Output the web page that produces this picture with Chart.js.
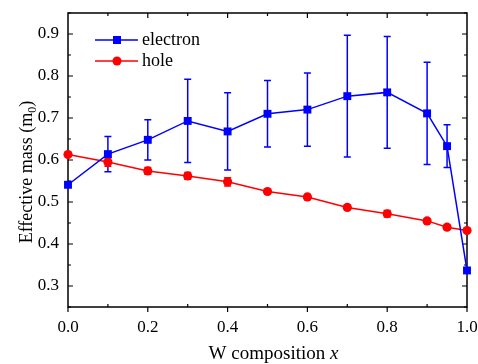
<!DOCTYPE html>
<html>
<head>
<meta charset="utf-8">
<script src="https://cdn.jsdelivr.net/npm/chart.js@4.4.1/dist/chart.umd.min.js"></script>
<style>
  html, body { margin: 0; padding: 0; background: #fff; }
  #wrap { width: 478px; height: 364px; }
</style>
</head>
<body>
<div id="wrap"><canvas id="chart" width="478" height="364"></canvas></div>
<script>
// W composition values
const compX = [0.0, 0.1, 0.2, 0.3, 0.4, 0.5, 0.6, 0.7, 0.8, 0.9, 0.95, 1.0];
const electronMass = [0.541, 0.614, 0.648, 0.693, 0.668, 0.710, 0.720, 0.752, 0.761, 0.711, 0.633, 0.337];
const electronErr = [0, 0.042, 0.048, 0.099, 0.092, 0.079, 0.087, 0.145, 0.133, 0.122, 0.051, 0];
const holeMass = [0.613, 0.595, 0.574, 0.562, 0.548, 0.525, 0.512, 0.487, 0.472, 0.455, 0.440, 0.432];
const holeErr = [0, 0.010, 0.008, 0.008, 0.010, 0.005, 0.006, 0.005, 0.008, 0.005, 0.005, 0];
const xTicks = [0.0, 0.2, 0.4, 0.6, 0.8, 1.0];
const yTicks = [0.3, 0.4, 0.5, 0.6, 0.7, 0.8, 0.9];

const SERIF = '"Liberation Serif", "Times New Roman", serif';
const BLUE = '#0000ff';
const RED = '#ff0000';

const toPoints = (xs, ys) => xs.map((x, i) => ({ x, y: ys[i] }));

// error bars, frame with inward ticks, legend and axis titles
const origin = {
    id: 'originStyle',
    beforeDatasetsDraw(chart) {
        const { ctx, scales: { x, y } } = chart;
        const sets = [[electronMass, electronErr, BLUE], [holeMass, holeErr, RED]];
        ctx.save();
        ctx.lineWidth = 1.5;
        sets.forEach(([vals, errs, color]) => {
            ctx.strokeStyle = color;
            vals.forEach((v, i) => {
                if (!errs[i]) return;
                const px = x.getPixelForValue(compX[i]);
                const top = y.getPixelForValue(v + errs[i]);
                const bot = y.getPixelForValue(v - errs[i]);
                ctx.beginPath();
                ctx.moveTo(px, top); ctx.lineTo(px, bot);
                ctx.moveTo(px - 3.5, top); ctx.lineTo(px + 3.5, top);
                ctx.moveTo(px - 3.5, bot); ctx.lineTo(px + 3.5, bot);
                ctx.stroke();
            });
        });
        ctx.restore();
    },
    beforeDraw(chart) {
        const { ctx, chartArea: a, scales: { x, y } } = chart;
        ctx.save();
        ctx.strokeStyle = '#000';
        ctx.lineWidth = 1.5;
        ctx.strokeRect(a.left, a.top, a.right - a.left, a.bottom - a.top);

        ctx.lineWidth = 1.2;
        ctx.beginPath();
        for (let i = 0; i <= 10; i++) {
            const px = x.getPixelForValue(i / 10);
            const major = i % 2 === 0;
            // bottom: majors out, minors in
            if (major) { ctx.moveTo(px, a.bottom); ctx.lineTo(px, a.bottom + 5); }
            else { ctx.moveTo(px, a.bottom); ctx.lineTo(px, a.bottom - 3); }
            // top: inward
            if (i > 0 && i < 10) { ctx.moveTo(px, a.top); ctx.lineTo(px, a.top + (major ? 5 : 3)); }
        }
        for (let i = 5; i <= 19; i++) {
            const py = y.getPixelForValue(i / 20);
            const len = i % 2 === 0 ? 5 : 3;
            ctx.moveTo(a.left, py); ctx.lineTo(a.left + len, py);
            ctx.moveTo(a.right, py); ctx.lineTo(a.right - len, py);
        }
        ctx.stroke();
        ctx.restore();
    },
    afterDraw(chart) {
        const { ctx, chartArea: a } = chart;
        ctx.save();

        // legend
        const legend = [
            { label: 'electron', color: BLUE, style: 'rect', y: 40 },
            { label: 'hole', color: RED, style: 'circle', y: 61 }
        ];
        ctx.font = '18px ' + SERIF;
        ctx.textBaseline = 'middle';
        ctx.textAlign = 'left';
        legend.forEach(item => {
            ctx.strokeStyle = item.color;
            ctx.fillStyle = item.color;
            ctx.lineWidth = 1.5;
            ctx.beginPath();
            ctx.moveTo(95, item.y); ctx.lineTo(138, item.y);
            ctx.stroke();
            ctx.beginPath();
            if (item.style === 'rect') ctx.rect(113, item.y - 4, 8, 8);
            else ctx.arc(117, item.y, 4.5, 0, Math.PI * 2);
            ctx.fill();
            ctx.fillStyle = '#000';
            ctx.fillText(item.label, 142, item.y);
        });

        // x title with italic x
        ctx.fillStyle = '#000';
        ctx.textBaseline = 'alphabetic';
        const xMain = 'W composition ';
        ctx.font = '19px ' + SERIF;
        const xw1 = ctx.measureText(xMain).width;
        ctx.font = 'italic 19px ' + SERIF;
        const xw2 = ctx.measureText('x').width;
        const cx = (a.left + a.right) / 2 + 6;
        ctx.font = '19px ' + SERIF;
        ctx.fillText(xMain, cx - (xw1 + xw2) / 2, 359);
        ctx.font = 'italic 19px ' + SERIF;
        ctx.fillText('x', cx - (xw1 + xw2) / 2 + xw1, 359);

        // y title with subscript
        ctx.translate(26, 172);
        ctx.rotate(-Math.PI / 2);
        const main = 'Effective mass (m';
        ctx.font = '18px ' + SERIF;
        const w1 = ctx.measureText(main).width;
        ctx.font = '12px ' + SERIF;
        const w2 = ctx.measureText('0').width;
        ctx.font = '18px ' + SERIF;
        const w3 = ctx.measureText(')').width;
        let sx = -(w1 + w2 + w3) / 2;
        ctx.fillText(main, sx, 6);
        sx += w1;
        ctx.font = '12px ' + SERIF;
        ctx.fillText('0', sx, 10);
        sx += w2;
        ctx.font = '18px ' + SERIF;
        ctx.fillText(')', sx, 6);
        ctx.restore();
    }
};

new Chart(document.getElementById('chart'), {
    type: 'scatter',
    data: {
        datasets: [
            {
                label: 'electron',
                data: toPoints(compX, electronMass),
                showLine: true,
                clip: false,
                borderColor: BLUE,
                backgroundColor: BLUE,
                borderWidth: 1.5,
                pointStyle: 'rect',
                pointRadius: 5.6,
                pointBorderWidth: 0
            },
            {
                label: 'hole',
                data: toPoints(compX, holeMass),
                showLine: true,
                clip: false,
                borderColor: RED,
                backgroundColor: RED,
                borderWidth: 1.5,
                pointStyle: 'circle',
                pointRadius: 4.6,
                pointBorderWidth: 0
            }
        ]
    },
    options: {
        responsive: false,
        animation: false,
        layout: { padding: { top: 13, right: 11, left: 0, bottom: 0 } },
        plugins: {
            legend: { display: false },
            tooltip: { enabled: false }
        },
        scales: {
            x: {
                type: 'linear',
                min: 0,
                max: 1.0,
                afterBuildTicks: s => { s.ticks = xTicks.map(v => ({ value: v })); },
                afterFit: s => { s.height = 57; s.paddingLeft = 0; s.paddingRight = 0; },
                grid: { display: false, drawTicks: false },
                border: { display: false },
                ticks: {
                    color: '#000',
                    padding: 10,
                    maxRotation: 0,
                    font: { family: SERIF, size: 17 },
                    callback: v => Number(v).toFixed(1)
                }
            },
            y: {
                min: 0.25,
                max: 0.95,
                afterBuildTicks: s => { s.ticks = yTicks.map(v => ({ value: v })); },
                afterFit: s => { s.width = 68; s.paddingTop = 0; s.paddingBottom = 0; },
                grid: { display: false, drawTicks: false },
                border: { display: false },
                ticks: {
                    color: '#000',
                    padding: 9,
                    font: { family: SERIF, size: 17 },
                    callback: v => Number(v).toFixed(1)
                }
            }
        }
    },
    plugins: [origin]
});
</script>
</body>
</html>
